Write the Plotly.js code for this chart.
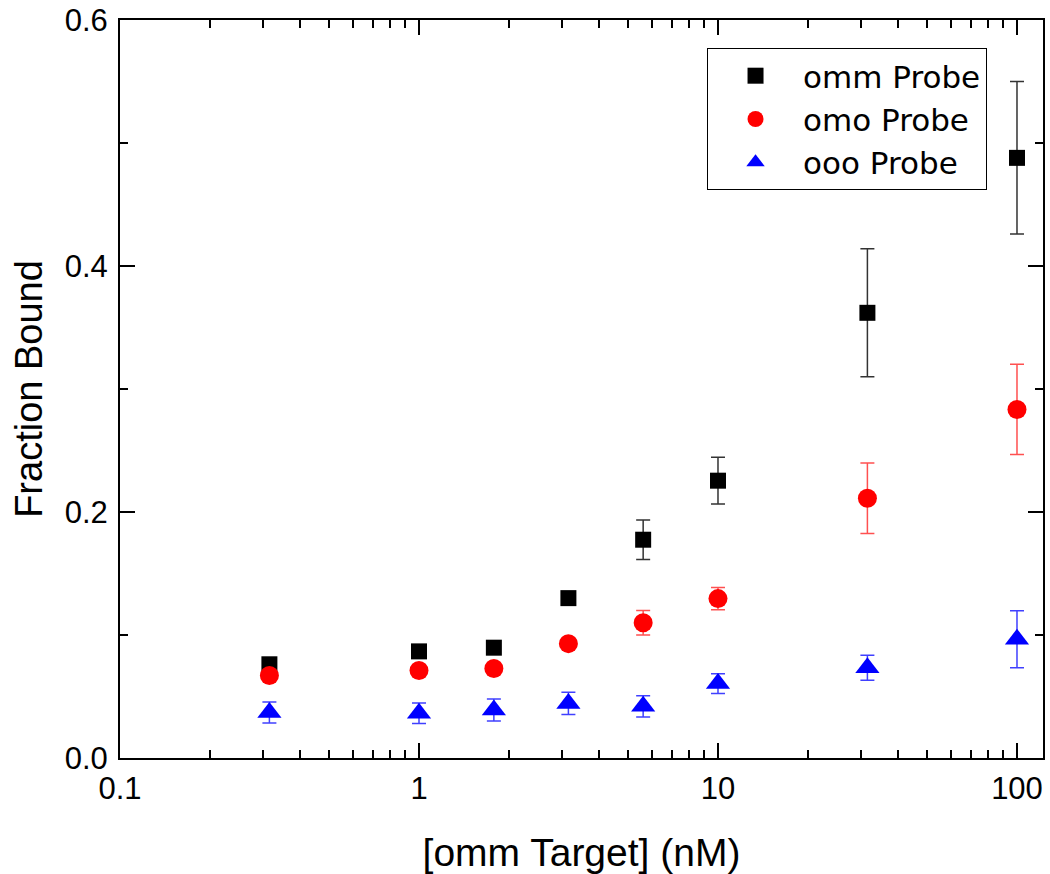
<!DOCTYPE html>
<html>
<head>
<meta charset="utf-8">
<script src="https://cdn.plot.ly/plotly-3.0.1.min.js"></script>
<style>html,body{margin:0;padding:0;background:#fff;}#chart{width:1050px;height:874px;}</style>
</head>
<body>
<div id="chart"></div>
<script>
// Data
const concentration = [0.316, 1, 1.78, 3.16, 5.62, 10, 31.6, 100];
const ommProbe    = [0.0762, 0.0867, 0.0897, 0.130, 0.1775, 0.2255, 0.362, 0.488];
const ommErr      = [0.002, 0.002, 0.002, 0.003, 0.016, 0.019, 0.052, 0.062];
const omoProbe    = [0.0671, 0.0711, 0.0727, 0.093, 0.110, 0.1296, 0.2112, 0.2834];
const omoErr      = [0.003, 0.002, 0.002, 0.002, 0.010, 0.009, 0.0286, 0.0367];
const oooProbe    = [0.037, 0.0364, 0.039, 0.0444, 0.042, 0.0605, 0.0734, 0.0966];
const oooErr      = [0.0085, 0.0084, 0.009, 0.009, 0.0086, 0.008, 0.0101, 0.0232];
const seriesNames = ['omm Probe', 'omo Probe', 'ooo Probe'];
const xTickVals   = [0.1, 1, 10, 100];
const xTickText   = ['0.1', '1', '10', '100'];
const xMinorVals  = [0.2, 0.3, 0.4, 0.5, 0.6, 0.7, 0.8, 0.9,
                     2, 3, 4, 5, 6, 7, 8, 9,
                     20, 30, 40, 50, 60, 70, 80, 90];
const yTickVals   = [0, 0.2, 0.4, 0.6];
const yTickText   = ['0.0', '0.2', '0.4', '0.6'];
const yMinorVals  = [0.1, 0.3, 0.5];

const FONT = 'Liberation Sans, Arial, Helvetica, sans-serif';
const LEGEND_FONT = 'DejaVu Sans, Liberation Sans, Arial, sans-serif';

function trace(name, y, err, symbol, color, errColor, size) {
  return {
    x: concentration, y: y, name: name, type: 'scatter', mode: 'markers',
    marker: {symbol: symbol, color: color, size: size, line: {width: 0}},
    error_y: {type: 'data', array: err, visible: true, color: errColor, thickness: 1.5, width: 7}
  };
}

const data = [
  trace(seriesNames[0], ommProbe, ommErr, 'square', '#000000', '#333333', 16),
  trace(seriesNames[1], omoProbe, omoErr, 'circle', '#ff0000', '#ff5050', 19),
  trace(seriesNames[2], oooProbe, oooErr, 'triangle-up', '#0000ff', '#4040ff', 21)
];

const axisCommon = {
  showgrid: false, zeroline: false, showline: true, linecolor: '#000', linewidth: 2,
  mirror: 'ticks', ticks: 'inside', ticklen: 15, tickwidth: 2, tickcolor: '#000',
  ticklabeloverflow: 'allow',
  tickfont: {family: FONT, size: 31, color: '#000'}
};

const layout = {
  width: 1050, height: 874,
  margin: {l: 120, r: 7, t: 20, b: 116},
  paper_bgcolor: '#fff', plot_bgcolor: '#fff',
  font: {family: FONT, color: '#000'},
  showlegend: true,
  xaxis: Object.assign({}, axisCommon, {
    type: 'log', range: [-1, 2.087],
    tickmode: 'array', tickvals: xTickVals, ticktext: xTickText,
    ticklabelstandoff: 2,
    minor: {tickmode: 'array', tickvals: xMinorVals, ticks: 'inside', ticklen: 8, tickwidth: 2, tickcolor: '#000', showgrid: false},
    title: {text: '[omm Target] (nM)', font: {family: FONT, size: 39, color: '#000'}, standoff: 40}
  }),
  yaxis: Object.assign({}, axisCommon, {
    range: [0, 0.6001], tickmode: 'array', tickvals: yTickVals, ticktext: yTickText,
    ticklabelstandoff: 4,
    minor: {tickmode: 'array', tickvals: yMinorVals, ticks: 'inside', ticklen: 8, tickwidth: 2, tickcolor: '#000', showgrid: false},
    title: {text: 'Fraction Bound', font: {family: FONT, size: 38, color: '#000'}, standoff: 10}
  }),
  legend: {
    x: 0.636, y: 0.962, xanchor: 'left', yanchor: 'top',
    bgcolor: '#fff', bordercolor: '#000', borderwidth: 1,
    font: {family: LEGEND_FONT, size: 31, color: '#000'},
    itemwidth: 85, tracegroupgap: 0
  }
};

Plotly.newPlot('chart', data, layout, {displayModeBar: false, staticPlot: true});
</script>
</body>
</html>
